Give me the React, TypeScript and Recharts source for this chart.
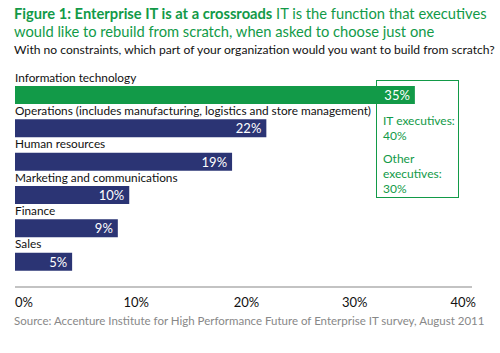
import React from 'react';
import { BarChart, Bar, XAxis, YAxis, Cell, LabelList } from 'recharts';

const categories = [
  'Information technology',
  'Operations (includes manufacturing, logistics and store management)',
  'Human resources',
  'Marketing and communications',
  'Finance',
  'Sales',
];
const shares = [35, 22, 19, 10, 9, 5];
const axisTicks = [0, 10, 20, 30, 40];
const breakdownLines = ['IT executives:', '40%', 'Other', 'executives:', '30%'];

const GREEN = '#129a48';
const NAVY = '#2b3474';
const FONT = 'Lato, "Open Sans", sans-serif';

const data = categories.map((name, i) => ({ name, value: shares[i] }));

const NameLabel = (props: any) => {
  const { y, value } = props;
  return (
    <text x={15} y={y - 4.5} fontSize={11.8} fill="#111" fontFamily={FONT}>
      {value}
    </text>
  );
};

const ValueLabel = (props: any) => {
  const { x, y, width, height, value } = props;
  return (
    <text x={x + width - 5} y={y + height - 4} fontSize={13} fill="#fff" textAnchor="end" fontFamily={FONT}>
      {value}%
    </text>
  );
};

const PctTick = (props: any) => {
  const { x, y, payload, index } = props;
  const anchors = ['start', 'middle', 'middle', 'middle', 'end'];
  const shifts = [0, 7, 3, -3, 4];
  return (
    <text x={x + shifts[index]} y={y + 12} fontSize={13} fill="#111" textAnchor={anchors[index]} fontFamily={FONT}>
      {payload.value}%
    </text>
  );
};

export default function App() {
  return (
    <div style={{ position: 'absolute', left: 0, top: 0, width: 500, height: 353, background: '#fff', fontFamily: FONT }}>
      <div style={{ position: 'absolute', left: 14, top: 4, fontSize: 14.7, color: GREEN, lineHeight: '18px', width: 490 }}>
        <b>Figure 1: Enterprise IT is at a crossroads</b> IT is the function that executives would like to rebuild from scratch, when asked to choose just one
      </div>
      <div style={{ position: 'absolute', left: 14, top: 42, fontSize: 12.1, color: '#111', whiteSpace: 'nowrap' }}>
        With no constraints, which part of your organization would you want to build from scratch?
      </div>
      {/* breakdown box sits behind the IT bar */}
      <div style={{ position: 'absolute', left: 376, top: 80, width: 81, height: 116, border: `1.5px solid ${GREEN}`, color: GREEN, fontSize: 12, lineHeight: '15px', whiteSpace: 'nowrap' }}>
        <div style={{ position: 'absolute', left: 6, top: 32 }}>{breakdownLines[0]}<br />{breakdownLines[1]}</div>
        <div style={{ position: 'absolute', left: 6, top: 70 }}>{breakdownLines[2]}<br />{breakdownLines[3]}<br />{breakdownLines[4]}</div>
      </div>
      <div style={{ position: 'absolute', left: 0, top: 0 }}>
        <BarChart width={500} height={353} data={data} layout="vertical" margin={{ top: 78, right: 28, left: 15, bottom: 36 }}>
          <XAxis type="number" domain={[0, 40]} ticks={axisTicks} height={30} tickLine={false} axisLine={{ stroke: '#888', strokeWidth: 1.2 }} tick={<PctTick />} interval={0} />
          <YAxis type="category" dataKey="name" hide width={0} padding={{ top: 0, bottom: 9 }} />
          <Bar dataKey="value" barSize={18} isAnimationActive={false}>
            {data.map((d, i) => (
              <Cell key={d.name} fill={i === 0 ? GREEN : NAVY} />
            ))}
            <LabelList dataKey="name" content={<NameLabel />} />
            <LabelList dataKey="value" content={<ValueLabel />} />
          </Bar>
        </BarChart>
      </div>
      <div style={{ position: 'absolute', left: 14, top: 314, fontSize: 11.5, color: '#888', whiteSpace: 'nowrap' }}>
        Source: Accenture Institute for High Performance Future of Enterprise IT survey, August 2011
      </div>
    </div>
  );
}
